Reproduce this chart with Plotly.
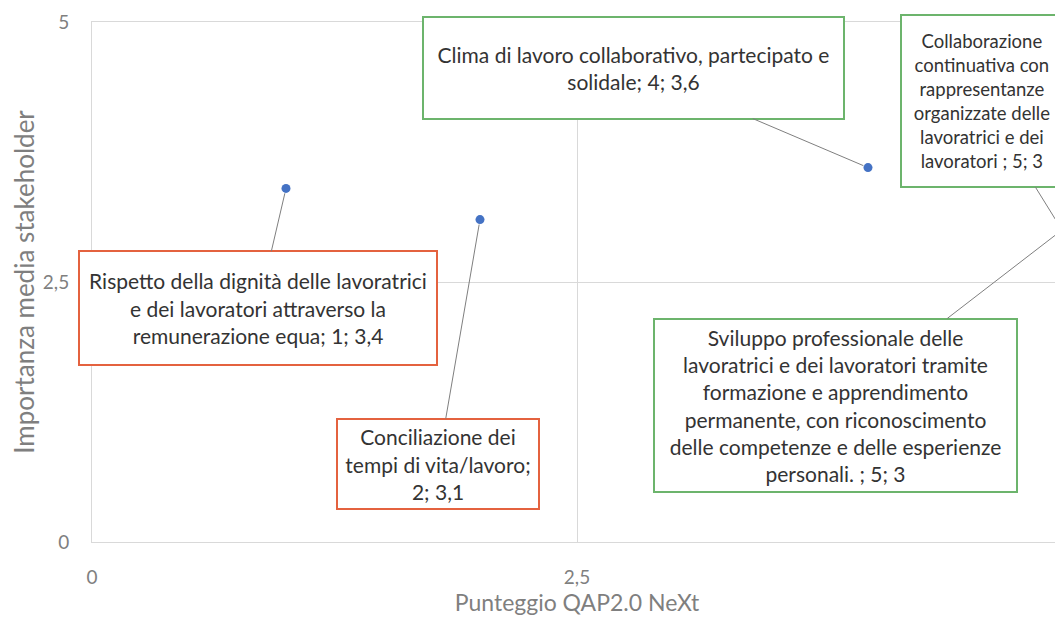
import plotly.graph_objects as go

# ── Data ──────────────────────────────────────────────────────────────────────
punteggio = [1, 2, 4, 5, 5]
importanza = [3.4, 3.1, 3.6, 3, 3]
etichette = [
    "Rispetto della dignità delle lavoratrici<br>e dei lavoratori attraverso la<br>remunerazione equa; 1; 3,4",
    "Conciliazione dei<br>tempi di vita/lavoro;<br>2; 3,1",
    "Clima di lavoro collaborativo, partecipato e<br>solidale; 4; 3,6",
    "Collaborazione<br>continuativa con<br>rappresentanze<br>organizzate delle<br>lavoratrici e dei<br>lavoratori ; 5; 3",
    "Sviluppo professionale delle<br>lavoratrici e dei lavoratori tramite<br>formazione e apprendimento<br>permanente, con riconoscimento<br>delle competenze e delle esperienze<br>personali. ; 5; 3",
]
gruppo = ["rosso", "rosso", "verde", "verde", "verde"]

# ── Style ─────────────────────────────────────────────────────────────────────
FONT = "Lato, 'Open Sans', sans-serif"
BORDER = {"rosso": "#E4623F", "verde": "#6CB46C"}
GRID = "#D9D9D9"
TICK = "#7F7F7F"

# label box placement: (offset x, offset y, width, height, font size) in pixels
BOXES = [
    (-28, 120, 350, 106, 21),
    (-42, 244, 194, 82, 21),
    (-235, -100, 413, 94, 21),
    (-80, -129, 154, 164, 18.5),
    (-227, 175, 355, 165, 21),
]

fig = go.Figure()
fig.add_trace(go.Scatter(
    x=punteggio,
    y=importanza,
    mode="markers",
    marker=dict(color="#4472C4", size=9),
    hoverinfo="skip",
    showlegend=False,
))

for x, y, txt, g, (ax, ay, w, h, fs) in zip(punteggio, importanza, etichette, gruppo, BOXES):
    fig.add_annotation(
        x=x, y=y, text=txt,
        ax=ax, ay=ay,
        showarrow=True, arrowhead=0, arrowwidth=1, arrowcolor="#7F7F7F",
        standoff=5,
        width=w, height=h, align="center", valign="middle",
        bgcolor="white", bordercolor=BORDER[g], borderwidth=2, borderpad=3,
        font=dict(family=FONT, size=fs, color="#333333"),
    )

axis_common = dict(
    range=[0, 5],
    tickvals=[0, 2.5, 5],
    showgrid=True,
    gridcolor=GRID,
    gridwidth=1,
    zeroline=False,
    showline=True,
    linecolor=GRID,
    mirror=True,
    automargin=False,
    ticks="outside",
    tickcolor="rgba(0,0,0,0)",
    tickfont=dict(family=FONT, size=19, color=TICK),
)

# page body adds an 8px offset, margins compensate for it
fig.update_layout(
    width=1063, height=620,
    paper_bgcolor="white",
    plot_bgcolor="white",
    separators=",.",
    margin=dict(l=84, r=9, t=14, b=86),
    xaxis=dict(**axis_common, ticklen=18,
               title=dict(text="Punteggio QAP2.0 NeXt", standoff=4,
                          font=dict(family=FONT, size=23, color=TICK))),
    yaxis=dict(**axis_common, ticklen=18,
               title=dict(text="Importanza media stakeholder", standoff=8,
                          font=dict(family=FONT, size=26, color=TICK))),
)

fig.write_html("out.html")
